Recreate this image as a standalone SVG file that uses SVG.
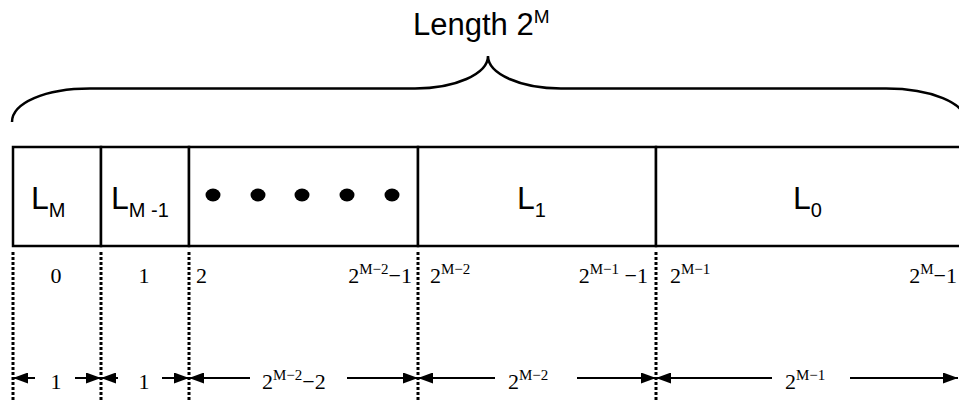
<svg xmlns="http://www.w3.org/2000/svg" width="959" height="401" viewBox="0 0 959 401">
  <style>
    .title { font-family: "Liberation Sans", Arial, sans-serif; font-size: 31px; fill: #000; }
    .cell { fill: #fff; stroke: #000; stroke-width: 2.5; }
    .lbl { font-family: "Liberation Sans", Arial, sans-serif; font-size: 32px; fill: #000; }
    .sub { font-size: 20px; }
    .idx { font-family: "Liberation Serif", "Times New Roman", serif; font-size: 22px; fill: #000; }
    .sup { font-size: 15px; }
    .brace { fill: none; stroke: #000; stroke-width: 2.5; }
    .guide { stroke: #000; stroke-width: 3; stroke-dasharray: 3 2; }
    .dim { stroke: #000; stroke-width: 2; marker-end: url(#tip); }
  </style>
  <defs>
    <marker id="tip" markerUnits="userSpaceOnUse" markerWidth="15" markerHeight="11" refX="15" refY="5.5" orient="auto">
      <path d="M0,0 L15,5.5 L0,11 z" fill="#000"/>
    </marker>
  </defs>
  <rect width="959" height="401" fill="#fff"/>

  <!-- overall length label and brace -->
  <g id="total-length">
    <text class="title" x="413" y="35">Length 2<tspan dy="-12" font-size="19px">M</tspan></text>
    <path class="brace" d="M12,122 C12,103 45,88.5 90,88.5 L415,88.5 C455,88.5 488,74 488,56 C488,74 521,88.5 561,88.5 L886,88.5 C931,88.5 966,103 966,122"/>
  </g>

  <!-- memory cells -->
  <g id="cell-LM">
    <rect class="cell" x="13" y="147" width="88" height="99"/>
    <text class="lbl" x="31" y="209">L<tspan class="sub" dy="8">M</tspan></text>
  </g>
  <g id="cell-LM-1">
    <rect class="cell" x="101" y="147" width="88" height="99"/>
    <text class="lbl" x="111" y="209">L<tspan class="sub" dy="8">M -1</tspan></text>
  </g>
  <g id="cell-dots">
    <rect class="cell" x="189" y="147" width="229" height="99"/>
    <ellipse cx="213" cy="195" rx="7.5" ry="6.5"/>
    <ellipse cx="258" cy="195" rx="7.5" ry="6.5"/>
    <ellipse cx="302" cy="195" rx="7.5" ry="6.5"/>
    <ellipse cx="347" cy="195" rx="7.5" ry="6.5"/>
    <ellipse cx="392" cy="195" rx="7.5" ry="6.5"/>
  </g>
  <g id="cell-L1">
    <rect class="cell" x="418" y="147" width="238" height="99"/>
    <text class="lbl" x="517" y="209">L<tspan class="sub" dy="8">1</tspan></text>
  </g>
  <g id="cell-L0">
    <rect class="cell" x="656" y="147" width="310" height="99"/>
    <text class="lbl" x="793" y="209">L<tspan class="sub" dy="8">0</tspan></text>
  </g>

  <!-- boundary guides -->
  <g id="guides">
    <line class="guide" x1="13" y1="252" x2="13" y2="401"/>
    <line class="guide" x1="101" y1="252" x2="101" y2="401"/>
    <line class="guide" x1="189" y1="252" x2="189" y2="401"/>
    <line class="guide" x1="418" y1="252" x2="418" y2="401"/>
    <line class="guide" x1="656" y1="252" x2="656" y2="401"/>
  </g>

  <!-- address indices -->
  <g id="indices">
    <text class="idx" x="56" y="283" text-anchor="middle">0</text>
    <text class="idx" x="144" y="283" text-anchor="middle">1</text>
    <text class="idx" x="196" y="283">2</text>
    <text class="idx" x="412" y="283" text-anchor="end">2<tspan class="sup" dy="-9">M−2</tspan><tspan dy="9">−1</tspan></text>
    <text class="idx" x="430" y="283">2<tspan class="sup" dy="-9">M−2</tspan></text>
    <text class="idx" x="648" y="283" text-anchor="end">2<tspan class="sup" dy="-9">M−1</tspan><tspan dy="9"> −1</tspan></text>
    <text class="idx" x="670" y="283">2<tspan class="sup" dy="-9">M−1</tspan></text>
    <text class="idx" x="957" y="283" text-anchor="end">2<tspan class="sup" dy="-9">M</tspan><tspan dy="9">−1</tspan></text>
  </g>

  <!-- segment sizes -->
  <g id="connectors">
    <line class="dim" x1="35" y1="378" x2="13" y2="378"/>
    <line class="dim" x1="75" y1="378" x2="101" y2="378"/>
    <line class="dim" x1="118" y1="378" x2="101" y2="378"/>
    <line class="dim" x1="162" y1="378" x2="189" y2="378"/>
    <line class="dim" x1="250" y1="378" x2="189" y2="378"/>
    <line class="dim" x1="347" y1="378" x2="418" y2="378"/>
    <line class="dim" x1="495" y1="378" x2="418" y2="378"/>
    <line class="dim" x1="577" y1="378" x2="656" y2="378"/>
    <line class="dim" x1="772" y1="378" x2="656" y2="378"/>
    <line class="dim" x1="850" y1="378" x2="958" y2="378"/>
  </g>
  <g id="sizes">
    <text class="idx" x="56" y="389" text-anchor="middle">1</text>
    <text class="idx" x="144" y="389" text-anchor="middle">1</text>
    <text class="idx" x="262" y="389">2<tspan class="sup" dy="-9">M−2</tspan><tspan dy="9">−2</tspan></text>
    <text class="idx" x="508" y="389">2<tspan class="sup" dy="-9">M−2</tspan></text>
    <text class="idx" x="785" y="389">2<tspan class="sup" dy="-9">M−1</tspan></text>
  </g>
</svg>
